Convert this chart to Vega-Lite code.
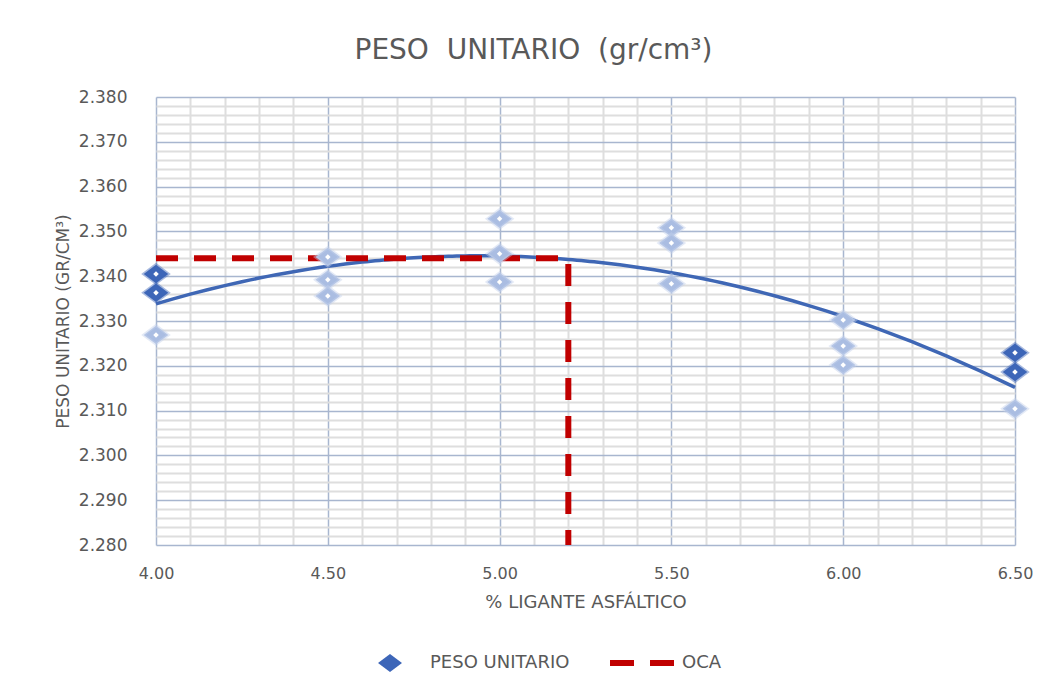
{
  "$schema": "https://vega.github.io/schema/vega-lite/v6.json",
  "width": 859,
  "height": 448,
  "autosize": "none",
  "padding": {"left": 156, "top": 97, "right": 37, "bottom": 144},
  "background": "white",
  "title": {
    "text": "PESO\u00a0\u00a0UNITARIO\u00a0\u00a0(gr/cm³)",
    "font": "DejaVu Sans",
    "fontSize": 28,
    "fontWeight": "normal",
    "color": "#595959",
    "anchor": "middle",
    "dx": -52,
    "offset": 23
  },
  "config": {
    "view": {"stroke": null},
    "axis": {
      "domain": false,
      "ticks": false,
      "tickSize": 0,
      "labelFont": "DejaVu Sans",
      "labelFontSize": 16,
      "labelColor": "#595959",
      "titleFont": "DejaVu Sans",
      "titleFontWeight": "normal",
      "titleColor": "#595959",
      "labelOverlap": false,
      "labelFlush": false,
      "gridOpacity": 1
    }
  },
  "datasets": {
    "ensayos": [
      {"ligante": 4.0, "peso": 2.3405, "serie": "PESO UNITARIO"},
      {"ligante": 4.0, "peso": 2.3363, "serie": "PESO UNITARIO"},
      {"ligante": 4.0, "peso": 2.3269, "serie": "PESO UNITARIO"},
      {"ligante": 4.5, "peso": 2.3443, "serie": "PESO UNITARIO"},
      {"ligante": 4.5, "peso": 2.3392, "serie": "PESO UNITARIO"},
      {"ligante": 4.5, "peso": 2.3356, "serie": "PESO UNITARIO"},
      {"ligante": 5.0, "peso": 2.3528, "serie": "PESO UNITARIO"},
      {"ligante": 5.0, "peso": 2.3450, "serie": "PESO UNITARIO"},
      {"ligante": 5.0, "peso": 2.3387, "serie": "PESO UNITARIO"},
      {"ligante": 5.5, "peso": 2.3508, "serie": "PESO UNITARIO"},
      {"ligante": 5.5, "peso": 2.3474, "serie": "PESO UNITARIO"},
      {"ligante": 5.5, "peso": 2.3383, "serie": "PESO UNITARIO"},
      {"ligante": 6.0, "peso": 2.3302, "serie": "PESO UNITARIO"},
      {"ligante": 6.0, "peso": 2.3244, "serie": "PESO UNITARIO"},
      {"ligante": 6.0, "peso": 2.3202, "serie": "PESO UNITARIO"},
      {"ligante": 6.5, "peso": 2.3229, "serie": "PESO UNITARIO"},
      {"ligante": 6.5, "peso": 2.3186, "serie": "PESO UNITARIO"},
      {"ligante": 6.5, "peso": 2.3104, "serie": "PESO UNITARIO"}
    ],
    "oca": [
      {"ligante": 4.0, "peso": 2.344, "orden": 1},
      {"ligante": 5.2, "peso": 2.344, "orden": 2},
      {"ligante": 5.2, "peso": 2.280, "orden": 3}
    ]
  },
  "encoding": {
    "x": {
      "field": "ligante",
      "type": "quantitative",
      "scale": {"domain": [4, 6.5], "nice": false, "zero": false},
      "axis": {
        "title": "% LIGANTE ASFÁLTICO",
        "titleFontSize": 18,
        "titlePadding": 12,
        "labelPadding": 20,
        "values": [4.0, 4.1, 4.2, 4.3, 4.4, 4.5, 4.6, 4.7, 4.8, 4.9, 5.0, 5.1, 5.2, 5.3, 5.4, 5.5, 5.6, 5.7, 5.8, 5.9, 6.0, 6.1, 6.2, 6.3, 6.4, 6.5],
        "labelExpr": "abs(datum.value * 2 - round(datum.value * 2)) < 0.0001 ? format(datum.value, '.2f') : ''",
        "gridColor": {
          "condition": {"test": "abs(datum.value * 2 - round(datum.value * 2)) < 0.0001", "value": "#a8b6cf"},
          "value": "#dedede"
        },
        "gridWidth": {
          "condition": {"test": "abs(datum.value * 2 - round(datum.value * 2)) < 0.0001", "value": 1.5},
          "value": 2
        }
      }
    },
    "y": {
      "field": "peso",
      "type": "quantitative",
      "scale": {"domain": [2.28, 2.38], "nice": false, "zero": false},
      "axis": {
        "title": "PESO UNITARIO (GR/CM³)",
        "titleFontSize": 17,
        "titlePadding": 6,
        "labelPadding": 29,
        "labelFontSize": 17,
        "values": [2.280, 2.282, 2.284, 2.286, 2.288, 2.290, 2.292, 2.294, 2.296, 2.298, 2.300, 2.302, 2.304, 2.306, 2.308, 2.310, 2.312, 2.314, 2.316, 2.318, 2.320, 2.322, 2.324, 2.326, 2.328, 2.330, 2.332, 2.334, 2.336, 2.338, 2.340, 2.342, 2.344, 2.346, 2.348, 2.350, 2.352, 2.354, 2.356, 2.358, 2.360, 2.362, 2.364, 2.366, 2.368, 2.370, 2.372, 2.374, 2.376, 2.378, 2.380],
        "labelExpr": "abs(datum.value * 100 - round(datum.value * 100)) < 0.0001 ? format(datum.value, '.3f') : ''",
        "gridColor": {
          "condition": {"test": "abs(datum.value * 100 - round(datum.value * 100)) < 0.0001", "value": "#a8b6cf"},
          "value": "#dedede"
        },
        "gridWidth": {
          "condition": {"test": "abs(datum.value * 100 - round(datum.value * 100)) < 0.0001", "value": 1.5},
          "value": 2
        }
      }
    }
  },
  "layer": [
    {
      "data": {"name": "ensayos"},
      "transform": [
        {"regression": "peso", "on": "ligante", "method": "poly", "order": 2, "extent": [4, 6.5]}
      ],
      "mark": {"type": "line", "color": "#3f67b5", "strokeWidth": 3.5, "clip": false}
    },
    {
      "data": {"name": "oca"},
      "mark": {"type": "line", "color": "#c00000", "strokeWidth": 6, "strokeDash": [22, 16], "strokeCap": "butt"},
      "encoding": {"order": {"field": "orden", "type": "quantitative"}}
    },
    {
      "data": {"name": "ensayos"},
      "mark": {"type": "point", "filled": true, "size": 420, "opacity": 1, "strokeWidth": 3, "strokeOpacity": 0.45},
      "encoding": {
        "color": {
          "field": "serie",
          "type": "nominal",
          "scale": {"domain": ["PESO UNITARIO", "OCA"], "range": ["#3d66b8", "#c00000"]},
          "condition": {
            "test": "!((datum.ligante == 4 && datum.peso > 2.33) || (datum.ligante == 6.5 && datum.peso > 2.315))",
            "value": "#aabde2"
          },
          "legend": {
            "title": null,
            "orient": "none",
            "direction": "horizontal",
            "legendX": 224,
            "legendY": 556,
            "padding": 0,
            "symbolSize": 400,
            "symbolStrokeWidth": 0,
            "symbolOpacity": 1,
            "labelFont": "DejaVu Sans",
            "labelFontSize": 18,
            "labelColor": "#595959",
            "labelOffset": 30,
            "columnPadding": 40
          }
        },
        "shape": {
          "field": "serie",
          "type": "nominal",
          "scale": {
            "domain": ["PESO UNITARIO", "OCA"],
            "range": ["M-1.2,0L0,-0.9L1.2,0L0,0.9Z", "M-3.2,-0.3H-0.8V0.3H-3.2ZM0.8,-0.3H3.2V0.3H0.8Z"]
          }
        },
        "stroke": {
          "condition": {
            "test": "!((datum.ligante == 4 && datum.peso > 2.33) || (datum.ligante == 6.5 && datum.peso > 2.315))",
            "value": "#c3d0ea"
          },
          "value": "#3d66b8"
        }
      }
    },
    {
      "data": {"name": "ensayos"},
      "mark": {"type": "point", "shape": "diamond", "filled": true, "size": 30, "color": "white", "opacity": 1}
    }
  ]
}
